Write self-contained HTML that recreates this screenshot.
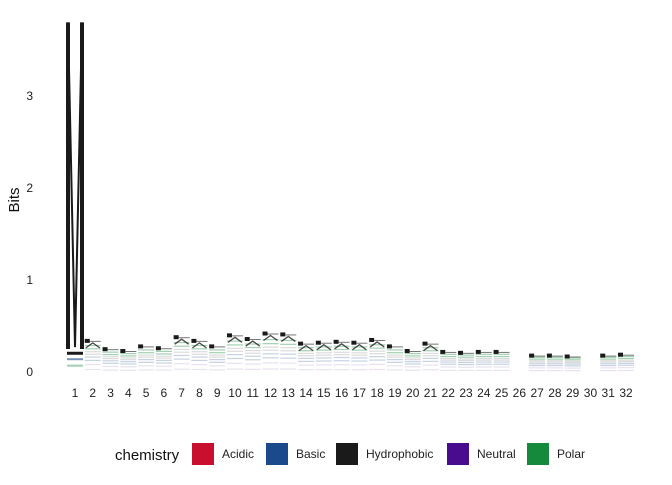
<!DOCTYPE html>
<html><head><meta charset="utf-8"><style>
body{margin:0;background:#fff;font-family:"Liberation Sans",sans-serif}
svg text{font-family:"Liberation Sans",sans-serif}
</style></head><body>
<svg id="c" width="672" height="480" xmlns="http://www.w3.org/2000/svg"></svg>
<script>
const positions=[1,2,3,4,5,6,7,8,9,10,11,12,13,14,15,16,17,18,19,20,21,22,23,24,25,26,27,28,29,30,31,32];
const bits=[3.8,0.36,0.27,0.25,0.3,0.28,0.4,0.36,0.3,0.42,0.38,0.44,0.43,0.33,0.34,0.35,0.34,0.37,0.3,0.25,0.33,0.24,0.23,0.24,0.24,0,0.2,0.2,0.19,0,0.2,0.21];
const yTicks=[0,1,2,3];
const legendLabels=["Acidic","Basic","Hydrophobic","Neutral","Polar"];
const legendColors=["#c8102e","#1a4a8c","#1a1a1a","#4a0c8f","#168a3c"];
const svg=document.getElementById('c');const NS="http://www.w3.org/2000/svg";
const x=p=>75+(p-1)*(551/31);const y=v=>372-v*92;
function mk(t,a,par){const e=document.createElementNS(NS,t);for(const k in a)e.setAttribute(k,a[k]);(par||svg).appendChild(e);return e;}
yTicks.forEach(v=>{const t=mk('text',{x:33,y:y(v)+4,'font-size':12,'text-anchor':'end',fill:'#222'});t.textContent=v;

});
const yt=mk('text',{x:19,y:200,'font-size':15,'text-anchor':'middle',transform:'rotate(-90 19 200)',fill:'#111'});yt.textContent='Bits';


positions.forEach((p,i)=>{
 const t=mk('text',{x:x(p),y:397,'font-size':12,'text-anchor':'middle',fill:'#222'});t.textContent=p;
 
 
 const g=mk('g',{});
 
 
 const b=bits[i];if(b<=0)return;const cx=x(p),w=16;
 if(b>1){
  const top=y(b),bot=y(0.25);
  mk('rect',{x:cx-9,y:top,width:4,height:bot-top,fill:'#1a1a1a'},g);
  mk('rect',{x:cx+5,y:top,width:4,height:bot-top,fill:'#1a1a1a'},g);
  mk('polyline',{points:`${cx-7},${top} ${cx},${y(0.27)} ${cx+7},${top}`,fill:'none',stroke:'#1a1a1a','stroke-width':2},g);
  mk('rect',{x:cx-8,y:y(0.22),width:16,height:3,fill:'#1a1a1a'},g);
  mk('rect',{x:cx-8,y:y(0.15),width:16,height:2,fill:'#1a4a8c',opacity:0.6},g);
  mk('rect',{x:cx-8,y:y(0.08),width:16,height:2,fill:'#168a3c',opacity:0.4},g);
  return;}
 const segs=[[0.3,'#4a0c8f',0.12],[0.2,'#1a4a8c',0.25],[0.15,'#888',0.3],[0.2,'#168a3c',0.4]];
 let acc=0;segs.forEach(s=>{const h=b*s[0];
  for(let k=0;k<2;k++)mk('rect',{x:cx-w/2,y:y(acc+h*(k+0.5)/2)-0.6,width:w,height:1.2,fill:s[1],opacity:s[2]},g);
  acc+=h;});
 // top cap: small black block plus caret line
 const ty=y(b);
 mk('rect',{x:cx-8,y:ty,width:5,height:4,fill:'#1a1a1a'},g);
 mk('rect',{x:cx-3,y:ty+2,width:11,height:1,fill:'#1a1a1a',opacity:0.6},g);
 if(b>0.3)mk('polyline',{points:`${cx-7},${ty+9} ${cx},${ty+4} ${cx+7},${ty+9}`,fill:'none',stroke:'#1a1a1a','stroke-width':1.3,opacity:0.8},g);
});
const lt=mk('text',{x:115,y:460,'font-size':15,fill:'#111'});lt.textContent='chemistry';


const lx=[192,266,336,447,527];
legendLabels.forEach((l,i)=>{const g=mk('g',{});
 
 
 mk('rect',{x:lx[i],y:443,width:22,height:22,fill:legendColors[i]},g);
 const t=mk('text',{x:lx[i]+30,y:458,'font-size':12,fill:'#222'},g);t.textContent=l;});
</script>
</body></html>
